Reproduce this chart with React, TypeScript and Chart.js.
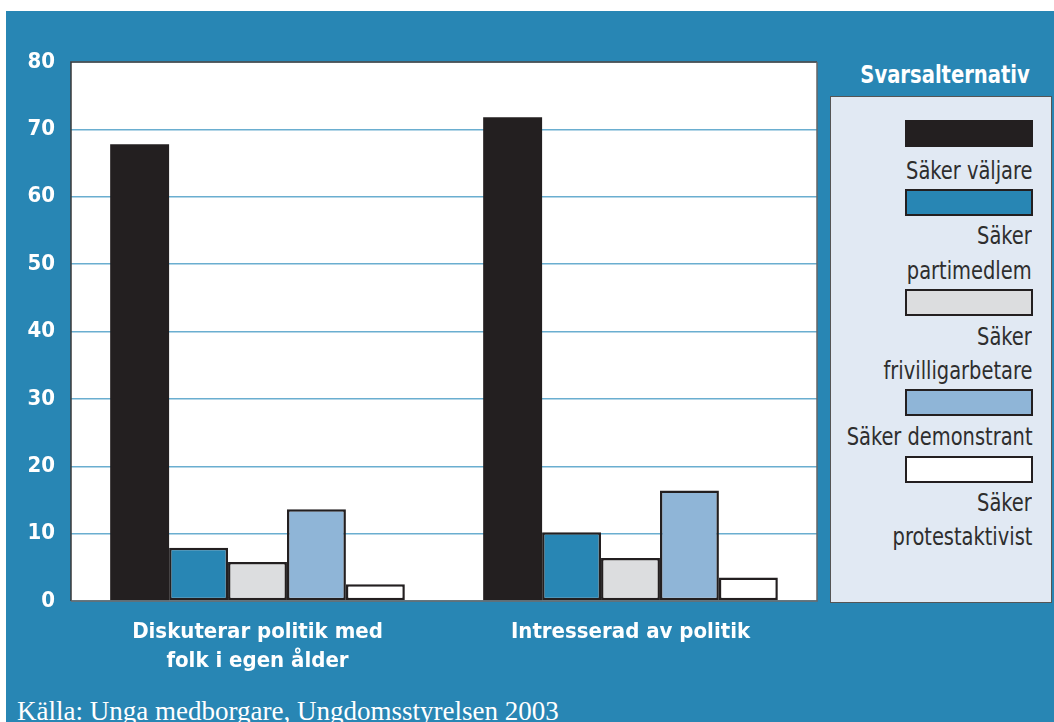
import React, { useEffect, useRef } from "react";
import { Chart, registerables } from "chart.js";

Chart.register(...registerables);

const categories: (string | string[])[] = [
  ["Diskuterar politik med", "folk i egen ålder"],
  "Intresserad av politik",
];
const seriesNames = [
  "Säker väljare",
  "Säker partimedlem",
  "Säker frivilligarbetare",
  "Säker demonstrant",
  "Säker protestaktivist",
];
const legendLines: string[][] = [
  ["Säker väljare"],
  ["Säker", "partimedlem"],
  ["Säker", "frivilligarbetare"],
  ["Säker demonstrant"],
  ["Säker", "protestaktivist"],
];
const valjare = [67.8, 71.8];
const partimedlem = [7.9, 10.2];
const frivillig = [5.8, 6.4];
const demonstrant = [13.6, 16.4];
const protest = [2.5, 3.5];
const seriesValues = [valjare, partimedlem, frivillig, demonstrant, protest];
const seriesColors = ["#231f20", "#2886b4", "#dcdddf", "#8fb5d7", "#ffffff"];
const yTicks = [0, 10, 20, 30, 40, 50, 60, 70, 80];

const PANEL = "#2886b4";
const NARROW = "'Liberation Sans Narrow', 'DejaVu Sans Condensed', 'Arial Narrow', sans-serif";

const framePlugin = {
  id: "frame",
  beforeDraw(chart: any) {
    const { ctx, chartArea: a } = chart;
    ctx.save();
    ctx.fillStyle = "#ffffff";
    ctx.fillRect(a.left, a.top, a.right - a.left, a.bottom - a.top);
    ctx.restore();
  },
  afterDraw(chart: any) {
    const { ctx, chartArea: a } = chart;
    ctx.save();
    ctx.lineWidth = 1.5;
    ctx.strokeStyle = "#3a3a3a";
    ctx.beginPath();
    ctx.moveTo(a.left, a.bottom);
    ctx.lineTo(a.left, a.top);
    ctx.lineTo(a.right, a.top);
    ctx.stroke();
    ctx.strokeStyle = "#666666";
    ctx.beginPath();
    ctx.moveTo(a.right, a.top);
    ctx.lineTo(a.right, a.bottom);
    ctx.lineTo(a.left, a.bottom);
    ctx.stroke();
    ctx.restore();
  },
};

export default function App() {
  const ref = useRef<HTMLCanvasElement>(null);

  useEffect(() => {
    if (!ref.current) return;
    const chart = new Chart(ref.current, {
      type: "bar",
      data: {
        labels: categories,
        datasets: seriesNames.map((name, i) => ({
          label: name,
          data: seriesValues[i],
          backgroundColor: seriesColors[i],
          borderColor: "#231f20",
          borderWidth: i === 0 ? 0 : 2.5,
          borderSkipped: false,
          categoryPercentage: 0.79,
          barPercentage: 1.0,
        })),
      },
      options: {
        animation: false,
        responsive: false,
        devicePixelRatio: 1,
        layout: { padding: { left: 20, top: 62, right: 13, bottom: 0 } },
        plugins: {
          legend: { display: false },
          tooltip: { enabled: false },
        },
        scales: {
          x: {
            grid: { display: false, drawTicks: false },
            border: { display: false },
            ticks: {
              color: "#ffffff",
              font: { family: NARROW, size: 22, weight: "bold", lineHeight: 1.32 },
              padding: 17,
              maxRotation: 0,
              autoSkip: false,
            },
            afterFit: (s: any) => {
              s.height = 80;
            },
          },
          y: {
            min: 0,
            max: 80,
            afterBuildTicks: (s: any) => {
              s.ticks = yTicks.map((v) => ({ value: v }));
            },
            grid: { color: "#6aaed0", lineWidth: 1.5, drawTicks: false },
            border: { display: false },
            ticks: {
              color: "#ffffff",
              font: { family: NARROW, size: 22, weight: "bold" },
              padding: 16,
            },
            afterFit: (s: any) => {
              s.width = 51;
            },
          },
        },
      },
      plugins: [framePlugin],
    });
    return () => chart.destroy();
  }, []);

  const swatchTops = [120, 189, 289, 389, 456];
  const textTops = [[157], [222, 257], [323, 357], [423], [489, 523]];

  return (
    <div
      style={{
        position: "absolute",
        left: 0,
        top: 0,
        width: 1054,
        height: 722,
        background: "#ffffff",
        overflow: "hidden",
      }}
    >
      <div
        style={{
          position: "absolute",
          left: 6,
          top: 11,
          width: 1048,
          height: 711,
          background: PANEL,
        }}
      />
      <canvas
        ref={ref}
        width={830}
        height={681}
        style={{ position: "absolute", left: 0, top: 0, width: 830, height: 681 }}
      />
      <div
        style={{
          position: "absolute",
          right: 24,
          top: 60,
          fontFamily: NARROW,
          fontWeight: "bold",
          fontSize: 25,
          lineHeight: "30px",
          color: "#ffffff",
          whiteSpace: "nowrap",
          transform: "scaleX(0.87)",
          transformOrigin: "right center",
        }}
      >
        Svarsalternativ
      </div>
      <div
        style={{
          position: "absolute",
          left: 830,
          top: 96,
          width: 222,
          height: 507,
          background: "#e1e9f3",
          border: "1.5px solid #555555",
          boxSizing: "border-box",
        }}
      />
      {seriesNames.map((name, i) => (
        <React.Fragment key={name}>
          <div
            style={{
              position: "absolute",
              left: 905,
              top: swatchTops[i],
              width: 128,
              height: 27,
              background: seriesColors[i],
              border: i === 0 ? "none" : "2.5px solid #231f20",
              boxSizing: "border-box",
            }}
          />
          {legendLines[i].map((line, j) => (
            <div
              key={j}
              style={{
                position: "absolute",
                right: 22,
                top: textTops[i][j],
                fontFamily: NARROW,
                fontSize: 24,
                lineHeight: "28px",
                color: "#2e2e2e",
                whiteSpace: "nowrap",
                transform: "scaleX(0.9)",
                transformOrigin: "right center",
              }}
            >
              {line}
            </div>
          ))}
        </React.Fragment>
      ))}
      <div
        style={{
          position: "absolute",
          left: 17,
          top: 696,
          fontFamily: "'Liberation Serif', 'DejaVu Serif', serif",
          fontSize: 27,
          lineHeight: "30px",
          color: "#ffffff",
          whiteSpace: "nowrap",
        }}
      >
        Källa: Unga medborgare, Ungdomsstyrelsen 2003
      </div>
    </div>
  );
}
